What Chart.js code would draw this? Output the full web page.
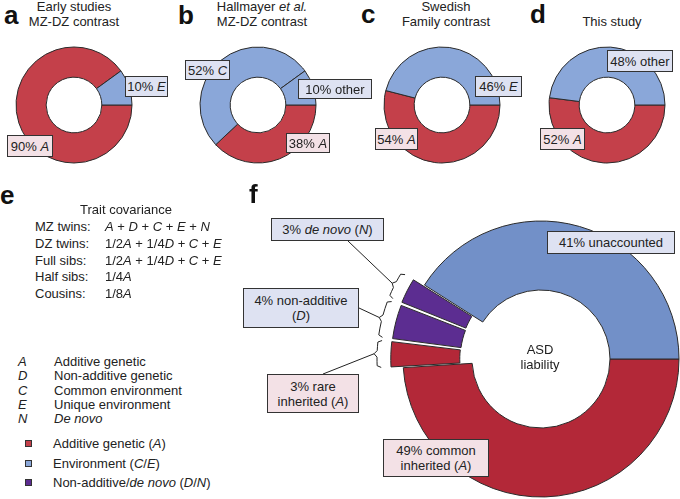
<!DOCTYPE html>
<html>
<head>
<meta charset="utf-8">
<script src="https://cdn.jsdelivr.net/npm/chart.js@4"></script>
<style>
body { margin: 0; background: #fff; font-family: "Liberation Sans", Arial, sans-serif; color: #222; }
#fig { position: relative; width: 680px; height: 499px; overflow: hidden; }
#fig canvas { position: absolute; }
.t { position: absolute; font-size: 13px; line-height: 15px; white-space: nowrap; }
.c { transform: translateX(-50%); text-align: center; }
.letter { position: absolute; font-weight: bold; font-size: 26px; line-height: 26px; color: #111; }
.box { position: absolute; border: 1px solid #333; font-size: 13px; line-height: 15px; display: flex; align-items: center; justify-content: center; text-align: center; box-sizing: border-box; white-space: nowrap; }
.red { background: #f3e1e6; }
.blue { background: #dee2f2; }
.sq { position: absolute; width: 7px; height: 7px; border: 1px solid #333; box-sizing: border-box; }
</style>
</head>
<body>
<div id="fig">
  <div class="letter" style="left:4px;top:2px">a</div>
  <div class="letter" style="left:178px;top:2px">b</div>
  <div class="letter" style="left:361px;top:1px">c</div>
  <div class="letter" style="left:530px;top:1px">d</div>
  <div class="letter" style="left:0px;top:182px">e</div>
  <div class="letter" style="left:249px;top:181px">f</div>

  <div class="t c" style="left:74px;top:-1px">Early studies<br>MZ-DZ contrast</div>
  <div class="t c" style="left:262px;top:-1px">Hallmayer <i>et al.</i><br>MZ-DZ contrast</div>
  <div class="t c" style="left:446px;top:-1.5px">Swedish<br>Family contrast</div>
  <div class="t c" style="left:612px;top:13.5px">This study</div>

  <div class="t c" style="left:126px;top:201.5px">Trait covariance</div>
  <div class="t" style="left:35px;top:219px;line-height:16.75px">MZ twins:<br>DZ twins:<br>Full sibs:<br>Half sibs:<br>Cousins:</div>
  <div class="t" style="left:105px;top:219px;line-height:16.75px"><i>A</i> + <i>D</i> + <i>C</i> + <i>E</i> + <i>N</i><br>1/2<i>A</i> + 1/4<i>D</i> + <i>C</i> + <i>E</i><br>1/2<i>A</i> + 1/4<i>D</i> + <i>C</i> + <i>E</i><br>1/4<i>A</i><br>1/8<i>A</i></div>

  <div class="t" style="left:18px;top:355px;line-height:14.25px"><i>A<br>D<br>C<br>E<br>N</i></div>
  <div class="t" style="left:54px;top:355px;line-height:14.25px">Additive genetic<br>Non-additive genetic<br>Common environment<br>Unique environment<br><i>De novo</i></div>

  <div class="t c" style="left:540px;top:342px">ASD<br>liability</div>
</div>

<script>
// panel a-d: heritability partitions (percent)
const labelsA = ['A', 'E'];
const valuesA = [90, 10];
const labelsB = ['A', 'C', 'other'];
const valuesB = [38, 52, 10];
const labelsC = ['A', 'E'];
const valuesC = [54, 46];
const labelsD = ['A', 'other'];
const valuesD = [52, 48];
// panel f: ASD liability
const labelsF = ['common inherited (A)', 'rare inherited (A)', 'non-additive (D)', 'de novo (N)', 'unaccounted'];
const valuesF = [49, 3, 4, 3, 41];
// legend
const legendLabels = ['Additive genetic (A)', 'Environment (C/E)', 'Non-additive/de novo (D/N)'];

const RED = '#c4404a', BLUE = '#8aa7d9';
const RED_F = '#b32838', BLUE_F = '#7290c8', PURPLE = '#5c2d91';
const EDGE = '#2b2b2b';

const fig = document.getElementById('fig');

function fmt(s) {
    return s.replace('de novo', '<i>de novo</i>')
        .replace(/\b([ACDEN])\b/g, '<i>$1</i>')
        .replace('D/N', '<i>D</i>/<i>N</i>')
        .replace('C/E', '<i>C</i>/<i>E</i>');
}

function baseOptions(extra) {
    return Object.assign({
        responsive: false,
        animation: false,
        events: [],
        rotation: 90,
        plugins: { legend: { display: false }, tooltip: { enabled: false } }
    }, extra);
}

function addCanvas(left, top, w, h) {
    const cv = document.createElement('canvas');
    cv.width = w; cv.height = h;
    cv.style.left = left + 'px';
    cv.style.top = top + 'px';
    fig.insertBefore(cv, fig.firstChild);
    return cv;
}

function smallDonut(cx, cy, labels, values, colors) {
    const cv = addCanvas(cx - 65, cy - 65, 130, 130);
    new Chart(cv, {
        type: 'doughnut',
        data: { labels: labels, datasets: [{ data: values, backgroundColor: colors, borderColor: EDGE, borderWidth: 1 }] },
        options: baseOptions({ cutout: '48%', radius: 58 })
    });
}

smallDonut(74, 105, labelsA, valuesA, [RED, BLUE]);
smallDonut(258, 105, labelsB, valuesB, [RED, BLUE, BLUE]);
smallDonut(442, 105, labelsC, valuesC, [RED, BLUE]);
smallDonut(607, 105, labelsD, valuesD, [RED, BLUE]);

// panel f
const F_LEFT = 220, F_TOP = 170;
// where the leader lines end on the label boxes (page coords)
const leaders = [
    { index: 3, x: 348, y: 241 },
    { index: 2, x: 359, y: 308 },
    { index: 1, x: 323, y: 374 }
];

const bracketPlugin = {
    id: 'brackets',
    afterDatasetsDraw(chart) {
        const ctx = chart.ctx;
        const arcs = chart.getDatasetMeta(0).data;
        ctx.save();
        ctx.strokeStyle = '#222';
        ctx.lineWidth = 1;
        leaders.forEach(t => {
            const p = arcs[t.index].getProps(['x', 'y', 'startAngle', 'endAngle', 'outerRadius'], true);
            const R = p.outerRadius + 26;
            const a0 = p.startAngle + 0.01, a1 = p.endAngle - 0.01, am = (a0 + a1) / 2;
            const pt = (r, a) => [p.x + r * Math.cos(a), p.y + r * Math.sin(a)];
            ctx.beginPath();
            ctx.moveTo(...pt(R - 4, a0));
            ctx.lineTo(...pt(R, a0 + 0.012));
            ctx.arc(p.x, p.y, R, a0 + 0.012, am - 0.02);
            ctx.lineTo(...pt(R + 3, am));
            ctx.lineTo(...pt(R, am + 0.02));
            ctx.arc(p.x, p.y, R, am + 0.02, a1 - 0.012);
            ctx.lineTo(...pt(R - 4, a1));
            ctx.stroke();
            ctx.beginPath();
            ctx.moveTo(...pt(R + 3, am));
            ctx.lineTo(t.x - F_LEFT, t.y - F_TOP);
            ctx.stroke();
        });
        ctx.restore();
    }
};

const cvF = addCanvas(F_LEFT, F_TOP, 460, 329);
new Chart(cvF, {
    type: 'doughnut',
    data: {
        labels: labelsF,
        datasets: [{
            data: valuesF,
            backgroundColor: [RED_F, RED_F, PURPLE, PURPLE, BLUE_F],
            borderColor: EDGE,
            borderWidth: 1,
            offset: [0, 27, 27, 27, 0]
        }]
    },
    options: baseOptions({
        cutout: '50%',
        radius: 138,
        layout: { padding: { left: 182, right: 0, top: 49, bottom: 0 } }
    }),
    plugins: [bracketPlugin]
});

// label boxes: [labels, values, index, left, top, width, height, style, wrap]
const boxes = [
    [labelsA, valuesA, 1, 125, 76, 43, 21, 'blue'],
    [labelsA, valuesA, 0, 7, 135, 46, 22, 'red'],
    [labelsB, valuesB, 1, 185, 60, 45, 20, 'blue'],
    [labelsB, valuesB, 2, 298, 79, 74, 20, 'blue'],
    [labelsB, valuesB, 0, 286, 133, 44, 20, 'red'],
    [labelsC, valuesC, 1, 475, 76, 47, 21, 'blue'],
    [labelsC, valuesC, 0, 375, 128, 43, 22, 'red'],
    [labelsD, valuesD, 1, 607, 50, 66, 22, 'blue'],
    [labelsD, valuesD, 0, 540, 128, 45, 22, 'red'],
    [labelsF, valuesF, 3, 271, 218, 113, 23, 'blue'],
    [labelsF, valuesF, 4, 547, 231, 128, 23, 'blue'],
    [labelsF, valuesF, 2, 243, 288, 116, 40, 'blue', true],
    [labelsF, valuesF, 1, 267, 374, 92, 39, 'red', true],
    [labelsF, valuesF, 0, 383, 439, 106, 38, 'red', true]
];
boxes.forEach(b => {
    const [labels, values, i, x, y, w, h, cls, wrap] = b;
    let txt = values[i] + '% ' + labels[i];
    if (wrap) {
        const k = labels[i].indexOf(' ');
        txt = values[i] + '% ' + labels[i].slice(0, k) + '\n' + labels[i].slice(k + 1);
    }
    const d = document.createElement('div');
    d.className = 'box ' + cls;
    d.style.cssText = `left:${x}px;top:${y}px;width:${w}px;height:${h}px`;
    d.innerHTML = '<span>' + fmt(txt).replace('\n', '<br>') + '</span>';
    fig.appendChild(d);
});

// colour legend
const legendColors = [RED, BLUE, PURPLE];
const legendY = [443, 463, 482];
legendLabels.forEach((l, i) => {
    const s = document.createElement('div');
    s.className = 'sq';
    s.style.cssText = `left:25px;top:${legendY[i] - 3.5}px;background:${legendColors[i]}`;
    fig.appendChild(s);
    const t = document.createElement('div');
    t.className = 't';
    t.style.cssText = `left:53px;top:${legendY[i] - 7.5}px`;
    t.innerHTML = fmt(l);
    fig.appendChild(t);
});
</script>
</body>
</html>
